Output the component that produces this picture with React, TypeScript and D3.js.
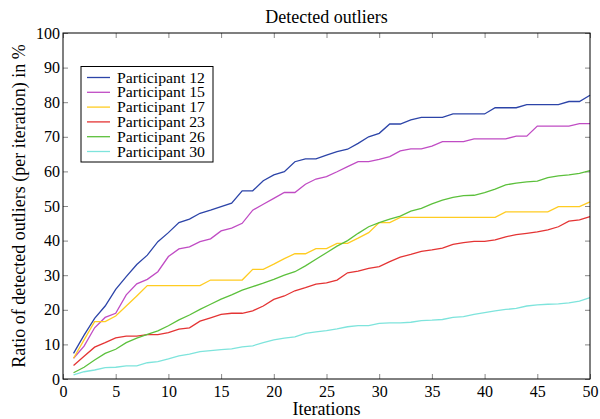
import React, { useEffect, useRef } from 'react';
import * as d3 from 'd3';

const iterations = d3.range(1, 51);

const p12 = [7.4, 12.7, 17.5, 21.1, 25.9, 29.6, 33.1, 35.8, 39.7, 42.3, 45.2, 46.2, 47.9, 48.8, 49.8, 50.8, 54.4, 54.4, 57.3, 59.0, 59.9, 62.8, 63.6, 63.6, 64.7, 65.7, 66.4, 68.1, 70.0, 71.0, 73.7, 73.7, 74.9, 75.6, 75.6, 75.6, 76.6, 76.6, 76.6, 76.6, 78.4, 78.4, 78.4, 79.3, 79.3, 79.3, 79.3, 80.2, 80.2, 82.0];
const p15 = [6.0, 9.5, 14.8, 17.8, 19.0, 24.3, 27.5, 28.8, 31.0, 35.4, 37.6, 38.2, 39.7, 40.5, 42.8, 43.6, 45.0, 48.8, 50.5, 52.2, 53.9, 53.9, 56.3, 57.8, 58.5, 59.9, 61.4, 62.8, 62.8, 63.5, 64.3, 65.9, 66.5, 66.5, 67.3, 68.6, 68.6, 68.6, 69.4, 69.4, 69.4, 69.4, 70.2, 70.2, 73.1, 73.1, 73.1, 73.1, 73.8, 73.8];
const p17 = [6.0, 11.3, 16.6, 16.6, 18.2, 21.1, 24.0, 27.0, 27.0, 27.0, 27.0, 27.0, 27.0, 28.6, 28.6, 28.6, 28.6, 31.7, 31.7, 33.2, 34.8, 36.2, 36.2, 37.7, 37.7, 39.2, 39.2, 40.7, 42.3, 45.2, 45.2, 46.7, 46.7, 46.7, 46.7, 46.7, 46.7, 46.7, 46.7, 46.7, 46.7, 48.3, 48.3, 48.3, 48.3, 48.3, 49.8, 49.8, 49.8, 51.2];
const p23 = [3.9, 6.6, 9.2, 10.5, 11.9, 12.4, 12.4, 12.8, 12.8, 13.4, 14.4, 14.8, 16.7, 17.7, 18.7, 19.0, 19.0, 19.7, 21.1, 23.0, 24.0, 25.5, 26.4, 27.4, 27.8, 28.6, 30.7, 31.2, 32.0, 32.5, 33.9, 35.2, 36.0, 36.9, 37.3, 37.8, 38.9, 39.4, 39.8, 39.8, 40.2, 41.1, 41.7, 42.1, 42.5, 43.1, 44.0, 45.6, 46.0, 46.9];
const p26 = [1.8, 3.4, 5.5, 7.4, 8.6, 10.5, 11.8, 12.9, 13.9, 15.4, 17.1, 18.5, 20.1, 21.6, 23.1, 24.3, 25.7, 26.7, 27.7, 28.8, 30.0, 31.0, 32.7, 34.6, 36.5, 38.4, 40.0, 42.1, 44.0, 45.2, 46.2, 47.1, 48.5, 49.3, 50.6, 51.7, 52.5, 53.0, 53.1, 53.9, 54.9, 56.1, 56.6, 57.0, 57.2, 58.2, 58.7, 59.0, 59.4, 60.2];
const p30 = [1.2, 2.1, 2.6, 3.3, 3.4, 3.8, 3.8, 4.7, 5.0, 5.8, 6.7, 7.2, 7.9, 8.2, 8.5, 8.7, 9.3, 9.6, 10.5, 11.3, 11.8, 12.2, 13.2, 13.6, 14.0, 14.5, 15.1, 15.4, 15.4, 16.1, 16.2, 16.2, 16.4, 16.9, 17.0, 17.2, 17.8, 18.0, 18.7, 19.2, 19.7, 20.1, 20.4, 21.1, 21.4, 21.6, 21.7, 22.0, 22.5, 23.5];

const seriesNames = ['Participant 12', 'Participant 15', 'Participant 17', 'Participant 23', 'Participant 26', 'Participant 30'];
const seriesValues = [p12, p15, p17, p23, p26, p30];
const seriesColors = ['#2c44a8', '#c04cc4', '#ffcc22', '#e43434', '#5cc03c', '#7ee4dc'];

const xTicks = d3.range(0, 51, 5);
const yTicks = d3.range(0, 101, 10);

const W = 600;
const H = 419;
const margin = { top: 33, right: 10, bottom: 40, left: 63 };
const FONT = '"Liberation Serif", "Times New Roman", serif';

const App = () => {
  const svgRef = useRef<SVGSVGElement>(null);

  useEffect(() => {
    const svg = d3.select(svgRef.current);
    svg.selectAll('*').remove();

    const innerW = W - margin.left - margin.right;
    const innerH = H - margin.top - margin.bottom;

    const x = d3.scaleLinear().domain([0, 50]).range([0, innerW]);
    const y = d3.scaleLinear().domain([0, 100]).range([innerH, 0]);

    const g = svg.append('g').attr('transform', `translate(${margin.left},${margin.top})`);

    // inward ticks on all four sides, labels only bottom/left
    const styleAxis = (sel: any, showLabels: boolean) => {
      sel.select('.domain').remove();
      sel.selectAll('.tick line').attr('stroke', '#888');
      sel.selectAll('.tick text')
        .attr('font-family', FONT)
        .attr('font-size', 16)
        .attr('fill', '#000')
        .style('display', showLabels ? null : 'none');
    };

    g.append('g')
      .attr('transform', `translate(0,${innerH})`)
      .call(d3.axisBottom(x).tickValues(xTicks).tickSize(-5).tickPadding(7))
      .call((s) => styleAxis(s, true));
    g.append('g')
      .call(d3.axisTop(x).tickValues(xTicks).tickSize(-5))
      .call((s) => styleAxis(s, false));
    g.append('g')
      .call(d3.axisLeft(y).tickValues(yTicks).tickSize(-5).tickPadding(3))
      .call((s) => styleAxis(s, true));
    g.append('g')
      .attr('transform', `translate(${innerW},0)`)
      .call(d3.axisRight(y).tickValues(yTicks).tickSize(-5))
      .call((s) => styleAxis(s, false));

    const line = d3
      .line<number>()
      .x((_, i) => x(iterations[i]))
      .y((d) => y(d));

    seriesValues.forEach((vals, i) => {
      g.append('path')
        .datum(vals)
        .attr('d', line)
        .attr('fill', 'none')
        .attr('stroke', seriesColors[i])
        .attr('stroke-width', 1.3);
    });

    g.append('rect')
      .attr('width', innerW)
      .attr('height', innerH)
      .attr('fill', 'none')
      .attr('stroke', '#000')
      .attr('stroke-width', 1);

    // legend
    const lg = g.append('g').attr('transform', 'translate(18,33.5)');
    lg.append('rect')
      .attr('width', 132)
      .attr('height', 95.5)
      .attr('fill', '#fff')
      .attr('stroke', '#000');
    seriesNames.forEach((name, i) => {
      const cy = 11 + i * 14.8;
      lg.append('line')
        .attr('x1', 6).attr('x2', 29)
        .attr('y1', cy).attr('y2', cy)
        .attr('stroke', seriesColors[i])
        .attr('stroke-width', 1.3);
      lg.append('text')
        .attr('x', 36).attr('y', cy + 5)
        .attr('font-family', FONT)
        .attr('font-size', 14.6)
        .attr('textLength', 88)
        .attr('lengthAdjust', 'spacingAndGlyphs')
        .text(name);
    });

    svg.append('text')
      .attr('x', margin.left + innerW / 2)
      .attr('y', 23)
      .attr('text-anchor', 'middle')
      .attr('font-family', FONT)
      .attr('font-size', 18)
      .text('Detected outliers');

    svg.append('text')
      .attr('x', margin.left + innerW / 2)
      .attr('y', 415)
      .attr('text-anchor', 'middle')
      .attr('font-family', FONT)
      .attr('font-size', 18)
      .text('Iterations');

    svg.append('text')
      .attr('transform', `translate(25,${margin.top + innerH / 2}) rotate(-90)`)
      .attr('text-anchor', 'middle')
      .attr('font-family', FONT)
      .attr('font-size', 18)
      .text('Ratio of detected outliers (per iteration) in %');
  }, []);

  return (
    <svg
      ref={svgRef}
      width={W}
      height={H}
      style={{ position: 'absolute', left: 0, top: 0, background: '#fff' }}
    />
  );
};

export default App;
